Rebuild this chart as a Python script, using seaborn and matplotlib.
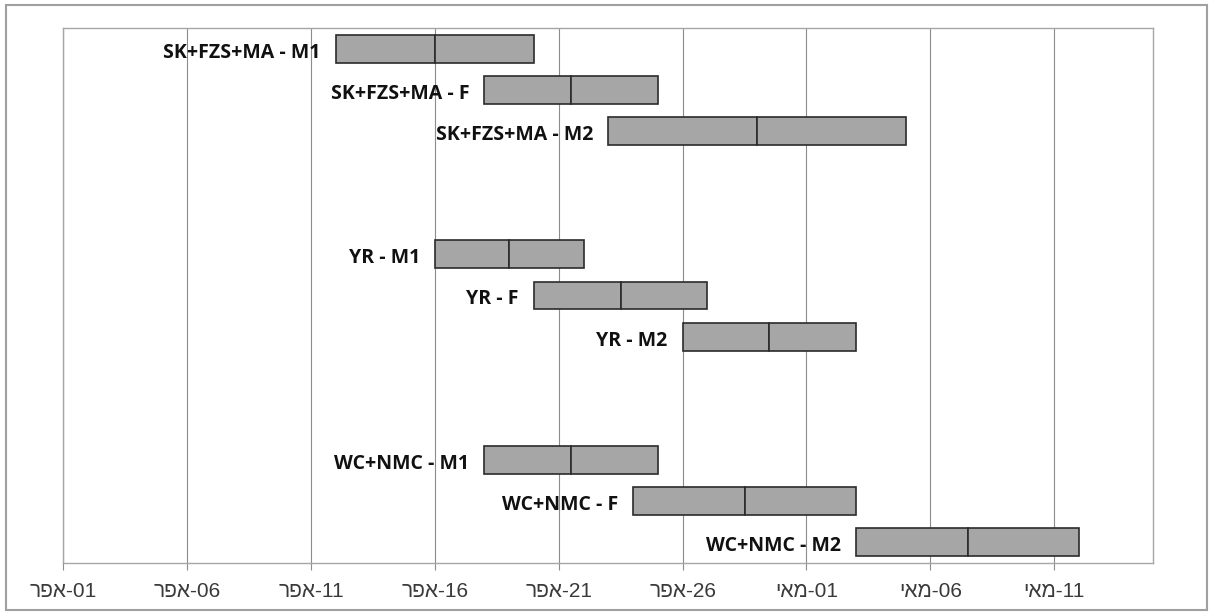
import matplotlib
matplotlib.use("Agg")
import matplotlib.pyplot as plt
from matplotlib.patches import Rectangle
from datetime import date
import pandas as pd
import seaborn as sns

# Schedule: each task has a start date and two equal phases (days)
tasks = ["SK+FZS+MA - M1", "SK+FZS+MA - F", "SK+FZS+MA - M2",
         "YR - M1", "YR - F", "YR - M2",
         "WC+NMC - M1", "WC+NMC - F", "WC+NMC - M2"]
start_dates = ["04-12", "04-18", "04-23",
               "04-16", "04-20", "04-26",
               "04-18", "04-24", "05-03"]
phase1_days = [4, 3.5, 6, 3, 3.5, 3.5, 3.5, 4.5, 4.5]
phase2_days = [4, 3.5, 6, 3, 3.5, 3.5, 3.5, 4.5, 4.5]

# Axis ticks (every five days) and Hebrew month abbreviations
tick_dates = ["04-01", "04-06", "04-11", "04-16", "04-21", "04-26",
              "05-01", "05-06", "05-11"]
month_names = {4: "אפר", 5: "מאי"}
axis_start = "04-01"
axis_end = "05-15"


def day_number(mmdd):
    m, d = (int(v) for v in mmdd.split("-"))
    return (date(2001, m, d) - date(2001, 4, 1)).days


def tick_label(mmdd):
    m, d = (int(v) for v in mmdd.split("-"))
    # matplotlib has no bidi layout: lay the right-to-left month out visually
    return month_names[m][::-1] + "-" + f"{d:02d}"


df = pd.DataFrame({
    "task": tasks,
    "start": [day_number(s) for s in start_dates],
    "phase1": phase1_days,
    "phase2": phase2_days,
})
df["mid"] = df["start"] + df["phase1"]

# Category order with two empty spacer rows between the groups
order = tasks[0:3] + [" ", "  "] + tasks[3:6] + ["   ", "    "] + tasks[6:9]

sns.set_style("white")
plt.rcParams["font.family"] = ["Liberation Sans", "DejaVu Sans"]

W, H = 1216, 614
fig = plt.figure(figsize=(W / 100, H / 100), dpi=100)
ax = fig.add_axes([63.3 / W, 1 - 562.7 / H, (1153.3 - 63.3) / W, (562.7 - 28.3) / H])

bar_style = dict(orient="h", order=order, width=0.68, color="#A6A6A6",
                 saturation=1, edgecolor="#2B2B2B", linewidth=1.2,
                 errorbar=None, ax=ax, zorder=3)
sns.barplot(data=df, y="task", x="phase1", left=df["start"].to_numpy(), **bar_style)
sns.barplot(data=df, y="task", x="phase2", left=df["mid"].to_numpy(), **bar_style)

ax.set_xlim(day_number(axis_start), day_number(axis_end))
ax.set_ylim(len(order) - 0.5, -0.5)
ax.set_xlabel("")
ax.set_ylabel("")
ax.set_yticks([])

ax.set_xticks([day_number(t) for t in tick_dates])
ax.set_xticklabels([tick_label(t) for t in tick_dates], fontsize=15,
                   color="#3A3A3A")
ax.tick_params(axis="x", direction="out", length=5, width=0.8,
               color="#8C8C8C", pad=9, bottom=True)
ax.grid(axis="x", color="#8C8C8C", linewidth=0.8)
ax.grid(axis="y", visible=False)
ax.set_axisbelow(True)
for sp in ax.spines.values():
    sp.set_visible(True)
    sp.set_color("#A6A6A6")
    sp.set_linewidth(1.0)

# Task names to the left of each bar
for _, row in df.iterrows():
    y = order.index(row["task"])
    ax.annotate(row["task"], xy=(row["start"], y), xytext=(-15, -9),
                textcoords="offset pixels", ha="right", va="baseline",
                fontsize=14, fontweight="bold", color="#111111",
                family=["Open Sans", "DejaVu Sans"], zorder=4)

# Chart frame
fig.patches.append(Rectangle((6 / W, 1 - 610 / H), (1207 - 6) / W, (610 - 5) / H,
                             transform=fig.transFigure, fill=False,
                             edgecolor="#A0A0A0", linewidth=1.5))

fig.savefig("out.png", dpi=100, facecolor="white")
